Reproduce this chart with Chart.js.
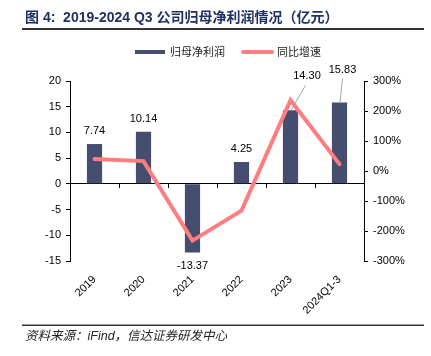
<!DOCTYPE html>
<html><head><meta charset="utf-8">
<script src="https://cdn.jsdelivr.net/npm/chart.js@4.4.0/dist/chart.umd.min.js"></script>
<style>html,body{margin:0;padding:0;background:#fff}#wrap{width:431px;height:356px;position:relative}</style>
</head><body><div id="wrap"><canvas id="c" width="431" height="356"></canvas></div>
<script>
const categories = ['2019', '2020', '2021', '2022', '2023', '2024Q1-3'];
const netProfit = [7.74, 10.14, -13.37, 4.25, 14.30, 15.83];
const yoyGrowth = [40, 33, -232, -132, 236, 23];
const leftTicks = [-15, -10, -5, 0, 5, 10, 15, 20];
const rightTicks = [-300, -200, -100, 0, 100, 200, 300];
const seriesNames = ['归母净利润', '同比增速'];
const titleText = '图 4:  2019-2024 Q3 公司归母净利润情况（亿元）';
const sourceText = '资料来源：iFind，信达证券研发中心';

const FONT = '"Liberation Sans", Arial, "Noto Sans CJK SC", sans-serif';
const BAR_COLOR = '#454e6f';
const LINE_COLOR = '#ff7c80';

const decorPlugin = {
  id: 'decor',
  afterDraw(chart) {
    const ctx = chart.ctx;
    ctx.save();
    // title
    ctx.fillStyle = '#1f3161';
    ctx.font = 'bold 14px ' + FONT;
    ctx.textBaseline = 'middle';
    ctx.textAlign = 'left';
    ctx.fillText(titleText, 25, 18);
    ctx.fillStyle = '#333';
    ctx.fillRect(22, 28, 402, 2);
    // footer
    ctx.fillRect(22, 324.5, 402, 1.5);
    ctx.fillStyle = '#222';
    ctx.font = 'italic 12.5px ' + FONT;
    ctx.fillText(sourceText, 25, 337);
    // legend
    ctx.fillStyle = BAR_COLOR;
    ctx.fillRect(135, 50, 30, 4);
    ctx.strokeStyle = LINE_COLOR;
    ctx.lineWidth = 4;
    ctx.lineCap = 'round';
    ctx.beginPath(); ctx.moveTo(243, 52); ctx.lineTo(272, 52); ctx.stroke();
    ctx.fillStyle = '#222';
    ctx.font = '11px ' + FONT;
    ctx.fillText(chart.data.datasets[0].label, 170, 52.5);
    ctx.fillText(chart.data.datasets[1].label, 277, 52.5);
    ctx.restore();
  },
  afterDatasetsDraw(chart) {
    const ctx = chart.ctx;
    const meta = chart.getDatasetMeta(0);
    const special = {4: {dx: 16.5, dy: -34.5, lx: 15, ly: -25}, 5: {dx: 3, dy: -32.5, lx: 3, ly: -24}};
    ctx.save();
    ctx.font = '11px ' + FONT;
    ctx.fillStyle = '#000';
    ctx.textAlign = 'center';
    ctx.textBaseline = 'middle';
    meta.data.forEach((el, i) => {
      const v = netProfit[i];
      const txt = v.toFixed(2);
      if (special[i]) {
        const s = special[i];
        ctx.strokeStyle = '#a6a6a6';
        ctx.lineWidth = 1;
        ctx.beginPath();
        ctx.moveTo(el.x + 0.5, el.y);
        ctx.lineTo(el.x + s.lx, el.y + s.ly);
        ctx.stroke();
        ctx.fillText(txt, el.x + s.dx, el.y + s.dy);
      } else if (v >= 0) {
        ctx.fillText(txt, el.x, el.y - 13);
      } else {
        ctx.fillText(txt, el.x, el.y + 13);
      }
    });
    ctx.restore();
  }
};

new Chart(document.getElementById('c'), {
  data: {
    labels: categories,
    datasets: [
      {
        type: 'bar', label: seriesNames[0], data: netProfit,
        backgroundColor: BAR_COLOR, yAxisID: 'y', xAxisID: 'x',
        barPercentage: 0.31, categoryPercentage: 1, order: 2
      },
      {
        type: 'line', label: seriesNames[1], data: yoyGrowth,
        borderColor: LINE_COLOR, borderWidth: 4, pointRadius: 0,
        yAxisID: 'y1', xAxisID: 'x', tension: 0, borderJoinStyle: 'miter',
        borderCapStyle: 'round', order: 1
      }
    ]
  },
  options: {
    responsive: false, animation: false, devicePixelRatio: 1,
    layout: {padding: {top: 81, left: 0, right: 0, bottom: 0}},
    plugins: {legend: {display: false}, tooltip: {enabled: false}},
    scales: {
      x: {
        type: 'category', position: 'bottom', offset: true,
        grid: {display: false}, border: {display: false},
        ticks: {minRotation: 45, maxRotation: 45, autoSkip: false, padding: 4,
          color: '#000', font: {size: 11, family: FONT}},
        afterFit: s => { s.height = 95; }
      },
      x0: {
        type: 'category', labels: categories, position: {y: 0}, axis: 'x', offset: true,
        grid: {display: true, drawOnChartArea: false, drawTicks: true, tickLength: 4, color: '#000', offset: true},
        border: {display: true, color: '#000', width: 1},
        ticks: {display: false}
      },
      y: {
        type: 'linear', position: 'left', min: -15, max: 20,
        grid: {drawOnChartArea: false, tickLength: 4, color: '#000'},
        border: {color: '#000', width: 1},
        ticks: {padding: 5, color: '#000', font: {size: 11, family: FONT}},
        afterBuildTicks: s => { s.ticks = leftTicks.map(v => ({value: v})); },
        afterFit: s => { s.width = 70; }
      },
      y1: {
        type: 'linear', position: 'right', min: -300, max: 300,
        grid: {drawOnChartArea: false, tickLength: 4, color: '#000'},
        border: {color: '#000', width: 1},
        ticks: {padding: 5, color: '#000', font: {size: 11, family: FONT}, callback: v => v + '%'},
        afterBuildTicks: s => { s.ticks = rightTicks.map(v => ({value: v})); },
        afterFit: s => { s.width = 67; }
      }
    }
  },
  plugins: [decorPlugin]
});
</script></body></html>
